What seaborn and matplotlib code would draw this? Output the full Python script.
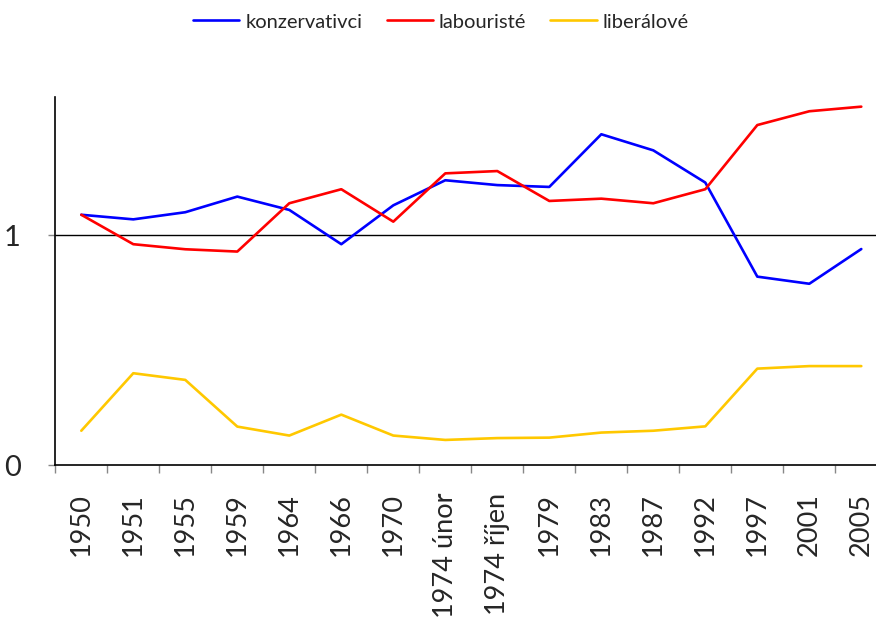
import matplotlib
matplotlib.use("Agg")
import matplotlib.pyplot as plt
import seaborn as sns
import pandas as pd
import numpy as np

roky = ["1950", "1951", "1955", "1959", "1964", "1966", "1970", "1974 únor",
        "1974 říjen", "1979", "1983", "1987", "1992", "1997", "2001", "2005"]
konzervativci = [1.088, 1.068, 1.099, 1.167, 1.109, 0.960, 1.129, 1.238,
                 1.217, 1.209, 1.438, 1.368, 1.228, 0.819, 0.788, 0.939]
labouriste = [1.088, 0.960, 0.938, 0.928, 1.138, 1.199, 1.058, 1.268,
              1.278, 1.148, 1.158, 1.138, 1.199, 1.478, 1.538, 1.558]
liberalove = [0.149, 0.399, 0.370, 0.167, 0.128, 0.219, 0.128, 0.109,
              0.117, 0.119, 0.141, 0.149, 0.168, 0.419, 0.430, 0.430]
strany = ["konzervativci", "labouristé", "liberálové"]
barvy = ["#0000FF", "#FF0000", "#FFC800"]

df = pd.concat([
    pd.DataFrame({"rok": roky, "hodnota": v, "strana": s})
    for s, v in zip(strany, [konzervativci, labouriste, liberalove])
], ignore_index=True)

sns.set_theme(style="white")
plt.rcParams["font.family"] = ["Lato", "DejaVu Sans"]

fig = plt.figure(figsize=(8.76, 6.27), dpi=100)
W, H = 876, 627
left, right, top, bottom = 55.3, 887.3, 97, 465
ax = fig.add_axes([left / W, 1 - bottom / H, (right - left) / W, (bottom - top) / H])

sns.lineplot(data=df, x="rok", y="hodnota", hue="strana", palette=barvy,
             sort=False, linewidth=1.9, ax=ax, legend=True)

n = len(roky)
ax.set_xlim(-0.5, n - 0.5)
ax.set_ylim(0, 1.6)
ax.set_xticks(range(n))
ax.set_xticklabels(roky, rotation=90, fontsize=19.5)
ax.set_xticks(np.arange(-0.5, n, 1), minor=True)
ax.tick_params(axis="x", which="major", length=0, pad=20)
ax.tick_params(axis="x", which="minor", length=6, width=1, color="#888888", direction="out", bottom=True)
ax.set_yticks([0, 1])
ax.set_yticklabels(["0", "1"], fontsize=21)
ax.tick_params(axis="y", length=5, width=1, color="#888888", direction="out", left=True, pad=20)
ax.axhline(1, color="black", linewidth=1, zorder=0)
ax.set_xlabel("")
ax.set_ylabel("")
for s in ["top", "right"]:
    ax.spines[s].set_visible(False)
for s in ["left", "bottom"]:
    ax.spines[s].set_color("black")
    ax.spines[s].set_linewidth(1.2)

handles, labels = ax.get_legend_handles_labels()
ax.legend(handles, labels, loc="center", bbox_to_anchor=(441 / W, 1 - 22 / H),
          bbox_transform=fig.transFigure, ncol=3, frameon=False, fontsize=14.5,
          handlelength=2.3, columnspacing=1.2, handletextpad=0.3)

fig.savefig("out.png", dpi=100)
